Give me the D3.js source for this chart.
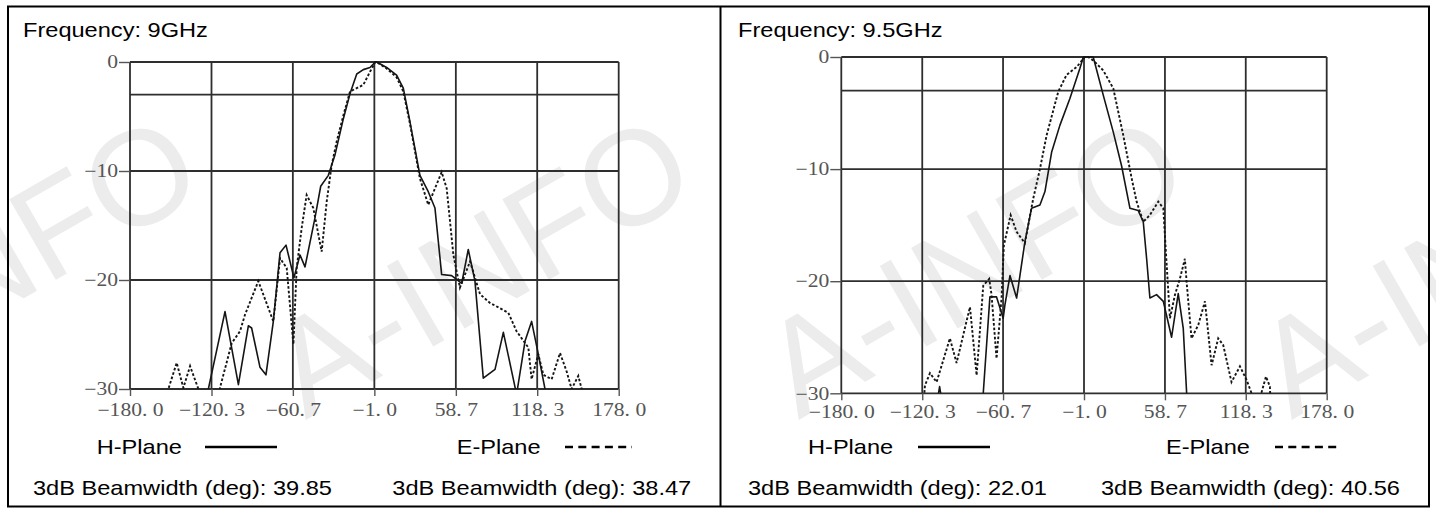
<!DOCTYPE html>
<html lang="en">
<head>
<meta charset="UTF-8">
<title>Radiation pattern</title>
<script src="https://cdn.jsdelivr.net/npm/d3@7"></script>
<style>
  body { margin: 0; background: #fff; }
</style>
</head>
<body>
<script>
// ---- data (angles in deg, levels in dB) ----
var xTicks = [-180.0, -120.3, -60.7, -1.0, 58.7, 118.3, 178.0];
var yTicks = [0, -10, -20, -30];
var gridDb = [0, -3, -10, -20, -30];
var freqLabels = ["Frequency: 9GHz", "Frequency: 9.5GHz"];
var hBeamwidth = [39.85, 22.01];
var eBeamwidth = [38.47, 40.56];

// 9 GHz, H-plane (solid)
var h9 = [[-124,-32],[-122.6,-30],[-110.4,-22.9],[-100.6,-29.6],[-93.3,-24.2],[-90.9,-24.4],[-84.8,-28.0],
  [-80.4,-28.7],[-75,-23.8],[-70.1,-17.5],[-65.7,-16.8],[-59.9,-19.8],[-55.5,-17.7],[-51.8,-18.8],
  [-44.5,-14.3],[-40.3,-11.4],[-34.7,-10.4],[-29.8,-8.5],[-23.7,-5.2],[-18.8,-2.9],[-13.9,-1.1],
  [-9.1,-0.7],[-4.2,-0.5],[-0.3,0],[0.7,0],[8.0,-0.5],[15.3,-1.2],[20.2,-2.4],[25.1,-5.5],[32.4,-10.4],
  [38.5,-11.9],[43.4,-13.4],[48.3,-19.5],[55.6,-19.6],[63.0,-20.3],[67.8,-17.2],[72.7,-20.1],
  [78.8,-29.0],[87.4,-28.2],[93.5,-24.8],[103.2,-30.5],[109.4,-25.6],[114.2,-23.8],[119.1,-26.8],
  [124.0,-30],[125,-32]];
// 9 GHz, E-plane (dashed)
var e9 = [[-153,-32],[-151.9,-30],[-145.8,-27.6],[-140.9,-29.9],[-136.0,-27.9],[-129.9,-30],[-127,-32],
  [-117,-32],[-114.1,-29.9],[-105.5,-25.8],[-99.4,-24.7],[-95.8,-23.2],[-86.0,-20.1],[-75.0,-23.8],
  [-70.1,-18.0],[-65.2,-18.9],[-60.3,-25.9],[-57.9,-18.9],[-54.2,-15.2],[-50.6,-12.2],[-45.7,-13.4],
  [-39.6,-17.4],[-35.9,-12.8],[-32.3,-9.5],[-28.6,-7.3],[-23.7,-4.9],[-18.8,-2.7],[-13.9,-2.4],
  [-9.1,-2.1],[-4.2,-0.9],[-0.3,0],[0.7,0],[8,-0.6],[15.3,-1.4],[20.2,-2.7],[25,-5.6],[32.4,-10.7],
  [38.5,-13.1],[48.3,-10.1],[52.0,-11.6],[56.9,-17.7],[61.7,-20.7],[69.1,-18.3],[76.4,-21.3],
  [83.7,-22.1],[97.1,-23.0],[103.2,-24.7],[111.8,-26.2],[114.2,-29.1],[119.1,-26.8],[122.8,-28.7],
  [128.9,-29.1],[135.0,-26.7],[139.9,-28.4],[143.5,-30],[148.4,-28.8],[150.9,-30],[152,-32]];
// 9.5 GHz, H-plane (solid)
var h95 = [[-111,-32],[-107.5,-29.4],[-104,-32],[-76,-32],[-75.3,-30],[-70.4,-21.4],[-65.5,-21.4],
  [-60.6,-23.3],[-59.3,-22.1],[-55.6,-19.5],[-50.7,-21.5],[-44.6,-16.5],[-39.7,-13.5],[-33.5,-13.2],
  [-29.8,-12.0],[-24.9,-8.5],[-18.8,-6.1],[-11.4,-3.7],[-4.0,-1.0],[-1.5,0],[5.8,0],[13.2,-3.4],
  [20.6,-6.7],[26.7,-9.7],[32.9,-13.5],[39.0,-13.7],[42.7,-14.7],[45.2,-18.0],[47.6,-21.5],
  [52.5,-21.2],[57.5,-21.8],[63.6,-25.0],[68.5,-21.1],[72.2,-24.2],[74.7,-30],[75.2,-32]];
// 9.5 GHz, E-plane (dashed)
var e95 = [[-120,-32],[-118.3,-29.3],[-114.6,-28.2],[-109.7,-29.0],[-99.9,-25.1],[-95.0,-27.3],
  [-85.1,-22.3],[-80.2,-28.4],[-75.3,-20.4],[-70.9,-19.8],[-69.2,-21.2],[-65.5,-26.9],[-61.8,-21.5],
  [-60.1,-16.8],[-55.1,-14.1],[-50.7,-15.6],[-44.6,-16.6],[-38.4,-12.6],[-33.5,-10.0],[-28.6,-7.0],
  [-20.0,-3.1],[-13.9,-1.6],[-6.5,-0.9],[-0.3,0],[2,0],[5.8,-0.3],[13.2,-1.2],[20.6,-2.8],[28.0,-7.0],
  [34.1,-10.8],[37.8,-12.9],[42.7,-14.7],[47.6,-14.1],[53.8,-12.9],[57.5,-13.5],[59.4,-17.4],
  [62.4,-23.3],[66.1,-21.2],[69.7,-19.8],[73.4,-18.0],[74.7,-20.1],[78.3,-25.1],[83.3,-23.9],
  [88.2,-21.8],[93.1,-27.5],[98.0,-25.1],[101.7,-25.7],[107.8,-29.0],[114.0,-27.6],[118.9,-28.8],
  [122.6,-30],[127,-30.5],[130.0,-29.9],[133.2,-28.5],[136.1,-29.4],[137,-32]];

var width = 1436, height = 509;
var svg = d3.select('body').append('svg').attr('width', width).attr('height', height);
var stretch = 1.18; // scanned text is a bit wider than normal

var panels = [
  {freq: freqLabels[0], hBw: hBeamwidth[0], eBw: eBeamwidth[0], h: h9, e: e9,
   box: {x0: 130, x1: 618.7, y0: 62, y1: 389}, xPad: 7,
   freqX: 23, hX: 96.7, hLine: [205, 277], eX: 456.7, eLine: [565, 632], bwX: [33, 392.3]},
  {freq: freqLabels[1], hBw: hBeamwidth[1], eBw: eBeamwidth[1], h: h95, e: e95,
   box: {x0: 841.3, x1: 1326.7, y0: 57, y1: 393.3}, xPad: 5,
   freqX: 738, hX: 808, hLine: [918, 990], eX: 1166, eLine: [1275, 1341], bwX: [748, 1101]}
];

function fmtX(d) {
  var s = Math.abs(d).toFixed(1).replace('.', '. ');
  return (d < 0 ? '\u2212' : '') + s;
}
function fmtY(d) { return d < 0 ? '\u2212' + (-d) : '0'; }

function label(g, x, y, txt) {
  g.append('text')
    .attr('transform', 'translate(' + x + ',' + y + ') scale(' + stretch + ',1)')
    .attr('font-family', 'Liberation Sans, Arial, sans-serif')
    .attr('font-size', '20px')
    .attr('fill', '#000')
    .text(txt);
}

// faint watermark, drawn first so the chart sits over it
var marks = [-13, 480, 973, 1466];
svg.append('g').selectAll('text').data(marks).enter().append('text')
  .attr('transform', function(d){ return 'translate(' + d + ',265) rotate(-30)'; })
  .attr('text-anchor', 'middle').attr('dy', '0.35em')
  .attr('font-family', 'Liberation Sans, Arial, sans-serif').attr('font-size', '135px')
  .attr('fill', '#ececec')
  .text('A-INFO');

function drawPanel(p, i) {
  var b = p.box;
  var x = d3.scaleLinear().domain([-180, 178]).range([b.x0, b.x1]);
  var y = d3.scaleLinear().domain([0, -30]).range([b.y0, b.y1]);
  var g = svg.append('g');

  // grid
  g.selectAll('.vg').data(xTicks).enter().append('line')
    .attr('x1', function(d){ return x(d); }).attr('x2', function(d){ return x(d); })
    .attr('y1', b.y0).attr('y2', b.y1)
    .attr('stroke', '#2e2e2e').attr('stroke-width', 1.8);
  g.selectAll('.hg').data(gridDb).enter().append('line')
    .attr('x1', b.x0).attr('x2', b.x1)
    .attr('y1', function(d){ return y(d); }).attr('y2', function(d){ return y(d); })
    .attr('stroke', '#2e2e2e').attr('stroke-width', 1.8);

  // axes
  var xa = g.append('g').attr('transform', 'translate(0,' + b.y1 + ')')
    .call(d3.axisBottom(x).tickValues(xTicks).tickSize(7).tickSizeOuter(0)
      .tickPadding(p.xPad).tickFormat(fmtX));
  var ya = g.append('g').attr('transform', 'translate(' + b.x0 + ',0)')
    .call(d3.axisLeft(y).tickValues(yTicks).tickSize(11).tickSizeOuter(0).tickFormat(fmtY));
  [xa, ya].forEach(function(a){
    a.select('.domain').remove();
    a.selectAll('line').attr('stroke', '#555').attr('stroke-width', 1.4);
    a.selectAll('text')
      .attr('font-family', 'Liberation Serif, DejaVu Serif, serif')
      .attr('font-size', '18px').attr('fill', '#555');
  });
  xa.selectAll('text').attr('transform', 'scale(1.2,1)');
  ya.selectAll('text').attr('x', -12 / 1.2).attr('transform', 'scale(1.2,1)');

  // curves
  var clipId = 'clip' + i;
  svg.append('clipPath').attr('id', clipId).append('rect')
    .attr('x', b.x0).attr('y', b.y0 - 2).attr('width', b.x1 - b.x0).attr('height', b.y1 - b.y0 + 2);
  var line = d3.line().x(function(d){ return x(d[0]); }).y(function(d){ return y(d[1]); });
  var cg = g.append('g').attr('clip-path', 'url(#' + clipId + ')');
  cg.append('path').datum(p.e).attr('d', line).attr('fill', 'none')
    .attr('stroke', '#151515').attr('stroke-width', 1.9).attr('stroke-dasharray', '2.6,2');
  cg.append('path').datum(p.h).attr('d', line).attr('fill', 'none')
    .attr('stroke', '#151515').attr('stroke-width', 1.6).attr('stroke-linejoin', 'round');

  // texts and legend
  label(g, p.freqX, 37, p.freq);
  label(g, p.hX, 454, 'H-Plane');
  label(g, p.eX, 454, 'E-Plane');
  g.append('line').attr('x1', p.hLine[0]).attr('x2', p.hLine[1]).attr('y1', 447).attr('y2', 447)
    .attr('stroke', '#000').attr('stroke-width', 2.5);
  g.append('line').attr('x1', p.eLine[0]).attr('x2', p.eLine[1]).attr('y1', 447).attr('y2', 447)
    .attr('stroke', '#000').attr('stroke-width', 2.5).attr('stroke-dasharray', '8,5.3');
  label(g, p.bwX[0], 495, '3dB Beamwidth (deg): ' + p.hBw.toFixed(2));
  label(g, p.bwX[1], 495, '3dB Beamwidth (deg): ' + p.eBw.toFixed(2));
}

panels.forEach(drawPanel);

// table borders
svg.append('rect').attr('x', 8).attr('y', 6.5).attr('width', 1421).attr('height', 500)
  .attr('fill', 'none').attr('stroke', '#000').attr('stroke-width', 2);
svg.append('line').attr('x1', 720.5).attr('x2', 720.5).attr('y1', 6.5).attr('y2', 506.5)
  .attr('stroke', '#000').attr('stroke-width', 2);
</script>
</body>
</html>
